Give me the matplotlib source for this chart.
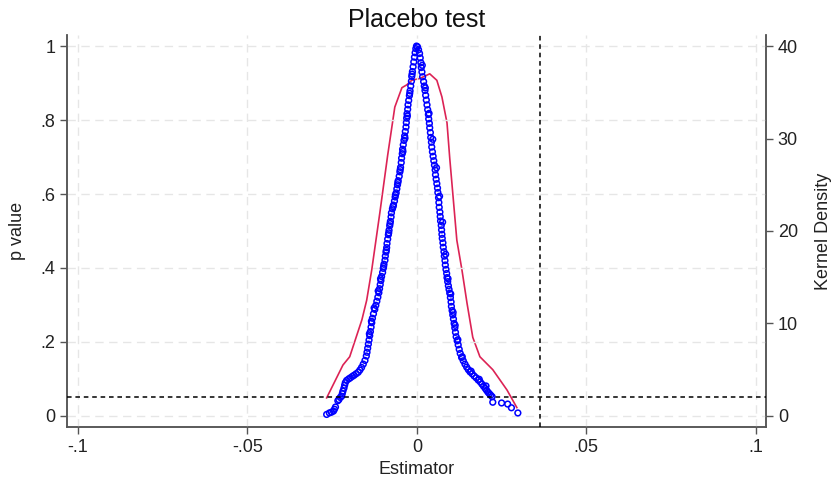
import matplotlib
matplotlib.use("Agg")
import matplotlib.pyplot as plt

plt.rcParams["font.family"] = ["Liberation Sans", "DejaVu Sans"]

# placebo estimates and their p values, left branch (negative side)
left_est = [-0.0266, -0.0258, -0.0252, -0.0246, -0.0243, -0.0240,
            -0.0233, -0.0230, -0.0226, -0.0222, -0.0220, -0.0218, -0.0215, -0.0213, -0.0211,
            -0.0207, -0.0201, -0.0196, -0.0190, -0.0185, -0.0179, -0.0173, -0.0168, -0.0163,
            -0.0158, -0.0153, -0.0149, -0.0147, -0.0145, -0.0143, -0.0141, -0.0139,
            -0.0137, -0.0135, -0.0133, -0.0131, -0.0128, -0.0124, -0.0121, -0.0118, -0.0115,
            -0.0112, -0.0110, -0.0108, -0.0106, -0.0104, -0.0101, -0.0099, -0.0097, -0.0094,
            -0.0093, -0.0091, -0.0089, -0.0088, -0.0086, -0.0084, -0.0082, -0.0080, -0.0078, -0.0076, -0.0075,
            -0.0072, -0.0069, -0.0066, -0.0064, -0.0061, -0.0059, -0.0057, -0.0055, -0.0052, -0.0050, -0.0048, -0.0046, -0.0045,
            -0.0043, -0.0042, -0.0040, -0.0038, -0.0036, -0.0034, -0.0032, -0.0031, -0.0030, -0.0029, -0.0027, -0.0026,
            -0.0024, -0.0022, -0.0020, -0.0018, -0.0016, -0.0015, -0.0013, -0.0011, -0.0009, -0.0007, -0.0005, -0.0003, -0.0001,
            # extra points sitting beside the main band
            -0.0140, -0.0134, -0.0126, -0.0114, -0.0107, -0.0098, -0.0090, -0.0083, -0.0079,
            -0.0070, -0.0063, -0.0056, -0.0049, -0.0041, -0.0035, -0.0028, -0.0021, -0.0014]
left_p = [0.004, 0.008, 0.010, 0.013, 0.018, 0.024,
          0.041, 0.044, 0.050, 0.053, 0.060, 0.067, 0.075, 0.083, 0.090,
          0.096, 0.100, 0.103, 0.107, 0.110, 0.114, 0.118, 0.124, 0.131,
          0.140, 0.150, 0.162, 0.172, 0.183, 0.194, 0.205, 0.217,
          0.228, 0.240, 0.252, 0.264, 0.276, 0.288, 0.299, 0.310, 0.321,
          0.333, 0.344, 0.355, 0.366, 0.377, 0.388, 0.399, 0.410, 0.421,
          0.432, 0.443, 0.455, 0.466, 0.478, 0.490, 0.502, 0.514, 0.526, 0.538, 0.549,
          0.560, 0.570, 0.581, 0.592, 0.603, 0.614, 0.625, 0.636, 0.648, 0.660, 0.672, 0.685, 0.697,
          0.709, 0.721, 0.733, 0.745, 0.757, 0.769, 0.781, 0.793, 0.805, 0.817, 0.829, 0.841,
          0.853, 0.866, 0.879, 0.892, 0.905, 0.918, 0.931, 0.944, 0.957, 0.970, 0.982, 0.993, 1.000,
          0.222, 0.256, 0.292, 0.338, 0.371, 0.404, 0.448, 0.495, 0.520,
          0.566, 0.598, 0.631, 0.666, 0.715, 0.751, 0.811, 0.872, 0.924]

# right branch (positive side)
right_est = [0.0002, 0.0005, 0.0008, 0.0010, 0.0012, 0.0013, 0.0015, 0.0017, 0.0020, 0.0022,
             0.0024, 0.0026, 0.0028, 0.0030, 0.0032, 0.0034, 0.0035, 0.0037, 0.0038,
             0.0040, 0.0041, 0.0043, 0.0044, 0.0046, 0.0048, 0.0050, 0.0052, 0.0054, 0.0055,
             0.0057, 0.0059, 0.0061, 0.0062, 0.0064, 0.0065, 0.0066, 0.0068,
             0.0069, 0.0070, 0.0072, 0.0073, 0.0074, 0.0075, 0.0077, 0.0078, 0.0080, 0.0081, 0.0083, 0.0084, 0.0086,
             0.0088, 0.0089, 0.0091, 0.0093, 0.0095, 0.0097, 0.0099, 0.0101, 0.0102, 0.0104, 0.0106,
             0.0108, 0.0110, 0.0112, 0.0114, 0.0116, 0.0119, 0.0122, 0.0125, 0.0128, 0.0132,
             0.0137, 0.0142, 0.0147, 0.0152, 0.0157, 0.0163, 0.0169, 0.0175, 0.0181, 0.0187,
             0.0192, 0.0197, 0.0202, 0.0206, 0.0210, 0.0214, 0.0218, 0.0222,
             0.0224, 0.0250, 0.0268, 0.0279, 0.0298,
             # extra points sitting beside the main band
             0.0016, 0.0025, 0.0036, 0.0047, 0.0058, 0.0067, 0.0076, 0.0085, 0.0092,
             0.0100, 0.0107, 0.0113, 0.0121, 0.0134, 0.0160, 0.0184, 0.0204]
right_p = [0.998, 0.990, 0.980, 0.968, 0.955, 0.942, 0.930, 0.917, 0.904, 0.892,
           0.880, 0.867, 0.854, 0.841, 0.828, 0.815, 0.803, 0.791, 0.779,
           0.766, 0.753, 0.740, 0.727, 0.714, 0.702, 0.690, 0.678, 0.665, 0.652,
           0.640, 0.628, 0.616, 0.604, 0.590, 0.577, 0.564, 0.551,
           0.539, 0.527, 0.515, 0.503, 0.491, 0.480, 0.468, 0.456, 0.444, 0.432, 0.420, 0.408, 0.396,
           0.385, 0.374, 0.363, 0.352, 0.342, 0.332, 0.320, 0.308, 0.296, 0.285, 0.273,
           0.262, 0.250, 0.238, 0.226, 0.214, 0.203, 0.192, 0.180, 0.169, 0.158,
           0.149, 0.140, 0.132, 0.125, 0.119, 0.114, 0.108, 0.103, 0.097, 0.092,
           0.086, 0.080, 0.074, 0.069, 0.064, 0.060, 0.056, 0.052,
           0.037, 0.035, 0.032, 0.022, 0.008,
           0.948, 0.887, 0.818, 0.748, 0.671, 0.594, 0.524, 0.437, 0.371,
           0.330, 0.280, 0.245, 0.206, 0.160, 0.121, 0.099, 0.081]

# kernel density of the estimates (right axis)
kd_x = [-0.0266, -0.0218, -0.0198, -0.0162, -0.0148, -0.0133, -0.0109, -0.0086, -0.0065,
        -0.0044, -0.0030, -0.0015, 0.0009, 0.0038, 0.0059, 0.0074, 0.0089, 0.0097,
        0.0118, 0.0133, 0.0148, 0.0165, 0.0186, 0.0224, 0.0266, 0.0295]
kd_y = [1.95, 5.5, 6.4, 10.4, 12.5, 15.8, 22.0, 28.2, 33.4,
        35.5, 35.8, 36.3, 36.5, 37.0, 36.3, 34.5, 31.7, 27.9,
        19.0, 15.8, 12.2, 8.5, 6.4, 5.0, 2.8, 0.9]

x_ticks = [-0.1, -0.05, 0, 0.05, 0.1]
x_labels = ["-.1", "-.05", "0", ".05", ".1"]
y_ticks = [0, 0.2, 0.4, 0.6, 0.8, 1]
y_labels = ["0", ".2", ".4", ".6", ".8", "1"]
kd_ticks = [0, 10, 20, 30, 40]
p_cut = 0.05
est_true = 0.0363

fig = plt.figure(figsize=(8.31, 4.86), dpi=100)
ax = fig.add_axes([0.0806, 0.1214, 0.8412, 0.8066])
ax2 = ax.twinx()

grid_kw = dict(color="#e6e6e6", linestyle=(0, (6, 4)), linewidth=1.0, zorder=0)
for t in y_ticks:
    ax.axhline(t, **grid_kw)
for t in x_ticks:
    ax.axvline(t, **grid_kw)

ax.scatter(left_est + right_est, left_p + right_p, s=17, facecolors="none",
           edgecolors="#0000ff", linewidths=1.1, zorder=3)
ax2.plot(kd_x, kd_y, color="#dc2355", linewidth=1.2, zorder=2)

ax.axhline(p_cut, color="black", linestyle=(0, (3, 2.5)), linewidth=1.1, zorder=4)
ax.axvline(est_true, color="black", linestyle=(0, (3, 2.5)), linewidth=1.1, zorder=4)

ax.set_xlim(-0.1032, 0.103)
ax.set_ylim(-0.03, 1.03)
ax2.set_ylim(-1.2, 41.2)

ax.set_xticks(x_ticks)
ax.set_xticklabels(x_labels)
ax.set_yticks(y_ticks)
ax.set_yticklabels(y_labels)
ax2.set_yticks(kd_ticks)

for a in (ax, ax2):
    a.spines["top"].set_visible(False)
    for s in ("left", "right", "bottom"):
        a.spines[s].set_color("#555555")
        a.spines[s].set_linewidth(1.1)
    a.tick_params(colors="#555555", labelcolor="#222222", labelsize=13,
                  length=5, width=1.0, direction="out")

ax.set_xlabel("Estimator", fontsize=13, color="#222222", labelpad=4)
ax.set_ylabel("p value", fontsize=13, color="#222222", labelpad=10)
ax2.set_ylabel("Kernel Density", fontsize=13, color="#222222", labelpad=12)
ax.set_title("Placebo test", fontsize=18, color="#111111", pad=6)

ax.set_zorder(ax2.get_zorder() + 1)
ax.patch.set_visible(False)

fig.savefig("out.png", dpi=100)
